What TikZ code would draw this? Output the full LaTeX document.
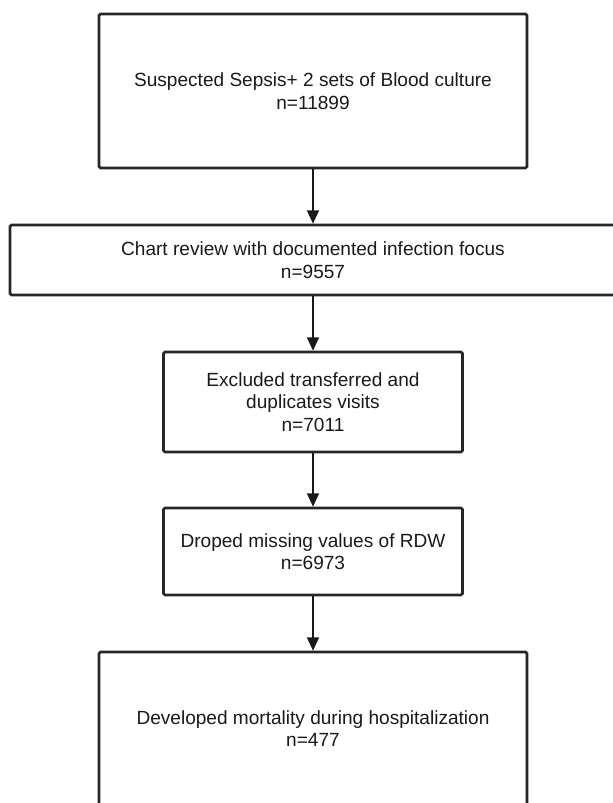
\documentclass[tikz,border=0pt]{standalone}
\usepackage{fontspec}
\setmainfont{Liberation Sans}
\usetikzlibrary{arrows.meta}
\tikzset{
	flowbox/.style={draw=black!85, line width=2pt, rounded corners=1.2pt, align=center, inner sep=0pt, font=\fontsize{14.3}{16.8}\selectfont, text=black!90},
	flowarrow/.style={draw=black!90, line width=1.2pt, -{Triangle[length=10pt,width=9pt]}}
}

\begin{document}
\begin{tikzpicture}[x=0.75pt, y=-0.75pt]
		%%%%% START %%%%%
		\useasboundingbox (0, 0) rectangle (613, 803);
		
		\node[flowbox, minimum width=321pt, minimum height=115.5pt] (sepsis) at (313, 91) {Suspected Sepsis+ 2 sets of Blood culture\\n=11899};
		\node[flowbox, minimum width=454.5pt, minimum height=52.5pt] (chart) at (313, 260) {Chart review with documented infection focus\\n=9557};
		\node[flowbox, minimum width=224.25pt, minimum height=75pt] (excluded) at (313, 402) {Excluded transferred and\\duplicates visits\\n=7011};
		\node[flowbox, minimum width=224.25pt, minimum height=65.25pt] (droped) at (313, 551.5) {Droped missing values of RDW\\n=6973};
		\node[flowbox, minimum width=321pt, minimum height=114.75pt] (mortality) at (313, 728.5) {Developed mortality during hospitalization\\n=477};
		
		\draw[flowarrow] (sepsis.south) -- (chart.north);
		\draw[flowarrow] (chart.south) -- (excluded.north);
		\draw[flowarrow] (excluded.south) -- (droped.north);
		\draw[flowarrow] (droped.south) -- (mortality.north);
		
		%%%%% END %%%%%
	\end{tikzpicture}
\end{document}
